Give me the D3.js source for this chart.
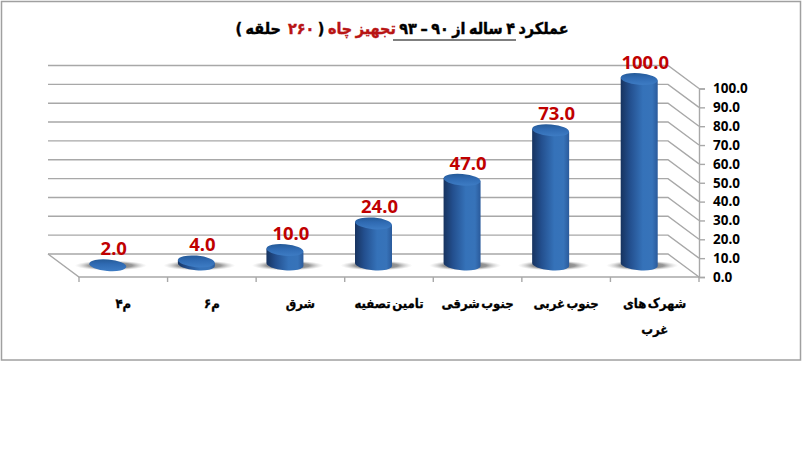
<!DOCTYPE html>
<html><head><meta charset="utf-8">
<script src="https://cdn.jsdelivr.net/npm/d3@7/dist/d3.min.js"></script>
<style>html,body{margin:0;padding:0;background:#fff}svg{display:block}</style></head>
<body><svg id="c" width="804" height="473"></svg>
<script>
const categories = ["م۴","م۶","شرق","تامین تصفیه","جنوب شرقی","جنوب غربی",["شهرک های","غرب"]];
const values = [2,4,10,24,47,73,100];
const tickValues = [0,10,20,30,40,50,60,70,80,90,100];
const titleParts = [["عملکرد ۴ ساله از ۹۰ – ۹۳ ","#000"],["تجهیز چاه ","#b81414"],["( ","#000"],["۲۶۰ ","#b81414"],[" حلقه )","#000"]];

const svg = d3.select("#c");
const defs = svg.append("defs");
const side = defs.append("linearGradient").attr("id","side");
[[0,"#17335f"],[.25,"#234f8e"],[.6,"#3572b9"],[.85,"#3773b9"],[1,"#2a5a9b"]].forEach(s=>side.append("stop").attr("offset",s[0]).attr("stop-color",s[1]));
const cap = defs.append("linearGradient").attr("id","cap").attr("x1",0).attr("x2",.3).attr("y1",0).attr("y2",1);
[[0,"#22558f"],[.5,"#2f6ab2"],[1,"#3c7ac2"]].forEach(s=>cap.append("stop").attr("offset",s[0]).attr("stop-color",s[1]));
const sh = defs.append("radialGradient").attr("id","sh");
[[0,"#666",1],[.6,"#8c8c8c",.9],[1,"#ccc",0]].forEach(s=>sh.append("stop").attr("offset",s[0]).attr("stop-color",s[1]).attr("stop-opacity",s[2]));

svg.append("rect").attr("x",1.5).attr("y",1.5).attr("width",799).attr("height",358.5)
  .attr("fill","#fff").attr("stroke","#a0a0a0").attr("stroke-width",1.5);

const x = d3.scaleBand().domain(d3.range(categories.length)).range([79,699]);
const y = d3.scaleLinear().domain([0,100]).range([277,88.5]);
const barY = d3.scaleLinear().domain([0,100]).range([269,79]);
const baseY = 264.5;
const dx = -31, dy = -23;
const grid = "#a8a8a8";

const g = svg.append("g").attr("fill","none").attr("stroke",grid).attr("stroke-width",1.4);
tickValues.forEach(v=>{
  g.append("path").attr("d",`M${x.range()[0]+dx},${y(v)+dy}H${x.range()[1]+dx}L${x.range()[1]},${y(v)}`);
});
g.append("path").attr("d",`M${x.range()[0]+dx},${y(0)+dy}L${x.range()[0]},${y(0)}H${x.range()[1]}`);
x.domain().forEach(i=>g.append("path").attr("d",`M${x(i)},${y(0)}v5`));
g.append("path").attr("d",`M${x.range()[1]},${y(0)}v5`);

const ya = svg.append("g").attr("transform",`translate(${x.range()[1]},0)`)
  .call(d3.axisRight(y).tickValues(tickValues).tickSize(6).tickPadding(8).tickFormat(d3.format(".1f")));
ya.select(".domain").attr("stroke",grid).attr("stroke-width",1.4);
ya.selectAll(".tick line").attr("stroke",grid).attr("stroke-width",1.4);
ya.selectAll("text").attr("fill","#000").style("font","bold 13.5px 'Noto Sans'");

const rx = 18.5, ry = 5.8, tilt = 5, t = Math.sin(tilt*Math.PI/180)*rx;
const bars = svg.append("g").selectAll("g").data(values).join("g");
const cx = (d,i)=>x(i)+x.bandwidth()/2-15.5;
bars.append("ellipse").attr("cx",(d,i)=>cx(d,i)+3).attr("cy",265.5).attr("rx",36).attr("ry",5).attr("fill","url(#sh)");
bars.append("path").attr("fill","url(#side)").attr("d",(d,i)=>{
  const c=cx(d,i), top=barY(d);
  return `M${c-rx},${top-t}L${c-rx},${baseY-t}A${rx},${ry} ${tilt} 0 0 ${c+rx},${baseY+t}L${c+rx},${top+t}Z`;
});
bars.append("ellipse").attr("fill","url(#cap)")
  .attr("cx",cx).attr("cy",d=>barY(d)).attr("rx",rx).attr("ry",ry)
  .attr("transform",(d,i)=>`rotate(${tilt} ${cx(d,i)} ${barY(d)})`);
bars.append("text").attr("x",(d,i)=>cx(d,i)+6).attr("y",d=>barY(d)-10)
  .attr("text-anchor","middle").attr("fill","#c00000").style("font","bold 18.5px 'Noto Sans'").text(d=>d3.format(".1f")(d));

const labels = svg.append("g").selectAll("text").data(categories).join("text")
  .attr("text-anchor","middle").attr("direction","rtl")
  .style("font","bold 13px 'DejaVu Sans Condensed','DejaVu Sans'").style("font-stretch","condensed")
  .style("word-spacing","-2.5px")
  .attr("fill","#000").attr("stroke","#000").attr("stroke-width",.3);
labels.each(function(d,i){
  const lines = Array.isArray(d)?d:[d];
  lines.forEach((l,j)=>d3.select(this).append("tspan").attr("x",x(i)+x.bandwidth()/2).attr("y",308+j*26).text(l));
});

const title = svg.append("text").attr("x",402).attr("y",34).attr("text-anchor","middle").attr("direction","rtl")
  .style("font","bold 16px 'DejaVu Sans Condensed','DejaVu Sans'").style("font-stretch","condensed")
  .style("word-spacing","-1.5px").attr("stroke-width",.4);
titleParts.forEach(p=>title.append("tspan").attr("fill",p[1]).attr("stroke",p[1]).attr("xml:space","preserve").text(p[0]));
svg.append("line").attr("x1",393).attr("x2",516).attr("y1",40).attr("y2",40).attr("stroke","#000").attr("stroke-width",1);
</script></body></html>
